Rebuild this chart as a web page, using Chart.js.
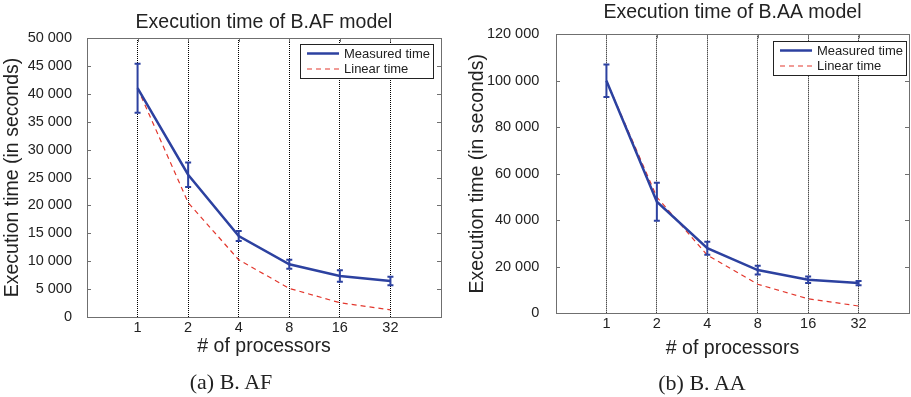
<!DOCTYPE html>
<html>
<head>
<meta charset="utf-8">
<script src="https://cdn.jsdelivr.net/npm/chart.js@4.4.0/dist/chart.umd.min.js"></script>
<style>
  body { margin: 0; background: #fff; }
  .panel { position: absolute; top: 0; height: 397px; }
  .caption { position: absolute; width: 200px; text-align: center; font-family: "Liberation Serif", serif; font-size: 22px; color: #222; line-height: 26px; }
</style>
</head>
<body>
<div class="panel" style="left:0; width:455px;"><canvas id="chartAF"></canvas></div>
<div class="panel" style="left:455px; width:456px;"><canvas id="chartAA"></canvas></div>
<div class="caption" style="left:131px; top:369px;">(a) B. AF</div>
<div class="caption" style="left:602px; top:370px;">(b) B. AA</div>
<script>
// number of processors (x axis is log2, one slot per value)
var procLabels = ['1', '2', '4', '8', '16', '32'];

// B.AF model
var afTitle = 'Execution time of B.AF model';
var afMeasured = [41000, 25500, 14500, 9450, 7350, 6450];
var afError = [4400, 2200, 900, 800, 1050, 750];
var afLinear = [41000, 20500, 10250, 5125, 2560, 1280];
var afMax = 50000;
var afStep = 5000;

// B.AA model
var aaTitle = 'Execution time of B.AA model';
var aaMeasured = [100000, 48000, 28000, 18600, 14400, 13000];
var aaError = [7000, 8200, 2800, 1900, 1400, 900];
var aaLinear = [100000, 50000, 25000, 12500, 6250, 3125];
var aaMax = 120000;
var aaStep = 20000;

var BLUE = '#2c41a0';
var RED = '#e3382e';
var FRAME = '#6f6f6f';
var TEXT = '#222';
var SANS = '"Liberation Sans", Arial, sans-serif';

function toPoints(values) {
  return values.map(function (v, i) { return { x: i + 1, y: v }; });
}

function spaced(v) {
  return String(v).replace(/\B(?=(\d{3})+(?!\d))/g, ' ');
}

// vertical error bars with small caps, drawn through the scales
var errorBars = {
  id: 'errorBars',
  afterDatasetsDraw: function (chart) {
    var ctx = chart.ctx;
    var xs = chart.scales.x, ys = chart.scales.y;
    chart.data.datasets.forEach(function (ds) {
      if (!ds.errors) return;
      ctx.save();
      ctx.strokeStyle = ds.borderColor;
      ctx.lineWidth = 2;
      ds.data.forEach(function (p, i) {
        var px = xs.getPixelForValue(p.x);
        var top = ys.getPixelForValue(p.y + ds.errors[i]);
        var bot = ys.getPixelForValue(p.y - ds.errors[i]);
        ctx.beginPath();
        ctx.moveTo(px, top); ctx.lineTo(px, bot);
        ctx.moveTo(px - 3, top); ctx.lineTo(px + 3, top);
        ctx.moveTo(px - 3, bot); ctx.lineTo(px + 3, bot);
        ctx.stroke();
      });
      ctx.restore();
    });
  }
};

// inward tick marks on all four sides of the box
var innerTicks = {
  id: 'innerTicks',
  afterDraw: function (chart) {
    var ctx = chart.ctx, a = chart.chartArea;
    ctx.save();
    ctx.strokeStyle = FRAME;
    ctx.lineWidth = 1;
    ctx.beginPath();
    chart.scales.y.ticks.forEach(function (t) {
      var py = Math.round(chart.scales.y.getPixelForValue(t.value)) + 0.5;
      ctx.moveTo(a.left, py); ctx.lineTo(a.left + 4, py);
      ctx.moveTo(a.right, py); ctx.lineTo(a.right - 4, py);
    });
    chart.scales.x.ticks.forEach(function (t) {
      var px = Math.round(chart.scales.x.getPixelForValue(t.value)) + 0.5;
      ctx.moveTo(px, a.top); ctx.lineTo(px, a.top + 4);
    });
    ctx.stroke();
    ctx.restore();
  }
};

// boxed legend inside the top right corner of the plot
var boxLegend = {
  id: 'boxLegend',
  afterDraw: function (chart, args, opts) {
    var ctx = chart.ctx, a = chart.chartArea;
    ctx.save();
    ctx.font = '13px ' + SANS;
    var maxW = 0;
    chart.data.datasets.forEach(function (ds) {
      maxW = Math.max(maxW, ctx.measureText(ds.label).width);
    });
    var w = 7 + 32 + 5 + maxW + 3;
    var h = 34;
    var x0 = a.right - opts.right - w;
    var y0 = a.top + opts.top;
    ctx.fillStyle = '#fff';
    ctx.fillRect(x0, y0, w, h);
    ctx.strokeStyle = '#222';
    ctx.lineWidth = 1;
    ctx.strokeRect(Math.round(x0) + 0.5, Math.round(y0) + 0.5, Math.round(w), h);
    chart.data.datasets.forEach(function (ds, i) {
      var cy = y0 + 9.5 + i * 15.5;
      ctx.strokeStyle = ds.borderColor;
      ctx.lineWidth = ds.borderWidth;
      ctx.setLineDash(ds.borderDash || []);
      ctx.beginPath();
      ctx.moveTo(x0 + 7, cy); ctx.lineTo(x0 + 39, cy);
      ctx.stroke();
      ctx.setLineDash([]);
      ctx.fillStyle = TEXT;
      ctx.textBaseline = 'middle';
      ctx.fillText(ds.label, x0 + 44, cy + 0.5);
    });
    ctx.restore();
  }
};

function makeChart(id, title, measured, errors, linear, yMax, yStep, L) {
  var ctx = document.getElementById(id).getContext('2d');
  return new Chart(ctx, {
    type: 'line',
    data: {
      datasets: [{
        label: 'Measured time',
        data: toPoints(measured),
        errors: errors,
        borderColor: BLUE,
        borderWidth: 2.5,
        pointRadius: 0,
        tension: 0
      }, {
        label: 'Linear time',
        data: toPoints(linear),
        borderColor: RED,
        borderWidth: 1.2,
        borderDash: [5, 4],
        pointRadius: 0,
        tension: 0
      }]
    },
    options: {
      responsive: true,
      maintainAspectRatio: false,
      animation: false,
      layout: { padding: { left: 0, right: L.rightPad, top: 0, bottom: L.bottomPad } },
      scales: {
        x: {
          type: 'linear', min: 0, max: 7,
          afterBuildTicks: function (scale) {
            scale.ticks = procLabels.map(function (_, i) { return { value: i + 1 }; });
          },
          afterFit: function (scale) { scale.height = L.xHeight; },
          ticks: {
            padding: 2, color: TEXT, font: { family: SANS, size: 14.5 },
            maxRotation: 0, autoSkip: false,
            callback: function (v) { return procLabels[v - 1]; }
          },
          grid: { color: '#000', lineWidth: 1, drawTicks: false },
          border: { color: FRAME, width: 1, dash: [1, 1] },
          title: {
            display: true, text: '# of processors', color: TEXT,
            font: { family: SANS, size: 19.5 }, padding: { top: 0, bottom: L.xTitlePad }
          }
        },
        xTop: {
          type: 'linear', position: 'top', min: 0, max: 7,
          afterFit: function (scale) { scale.height = 0; },
          ticks: { display: false }, grid: { display: false },
          border: { color: FRAME, width: 1 }
        },
        y: {
          min: 0, max: yMax,
          afterFit: function (scale) { scale.width = L.yWidth; },
          ticks: {
            stepSize: yStep, padding: L.yTickPad, color: TEXT,
            font: { family: SANS, size: 14.5 },
            callback: function (v) { return spaced(v); }
          },
          grid: { display: false },
          border: { color: FRAME, width: 1 },
          title: {
            display: true, text: 'Execution time (in seconds)', color: TEXT,
            font: { family: SANS, size: 19.5 }, padding: { top: L.yTitlePad, bottom: 0 }
          }
        },
        yRight: {
          position: 'right', min: 0, max: yMax,
          afterFit: function (scale) { scale.width = 0; },
          ticks: { display: false }, grid: { display: false },
          border: { color: FRAME, width: 1 }
        }
      },
      plugins: {
        legend: { display: false },
        tooltip: { enabled: false },
        title: {
          display: true, text: title, color: TEXT, fullSize: false,
          font: { family: SANS, size: 19.5, weight: 'normal' },
          padding: { top: L.titleTop, bottom: L.titleBottom }
        },
        boxLegend: { right: L.legRight, top: L.legTop }
      }
    },
    plugins: [errorBars, innerTicks, boxLegend]
  });
}

makeChart('chartAF', afTitle, afMeasured, afError, afLinear, afMax, afStep, {
  yWidth: 87, rightPad: 14, bottomPad: 35, xHeight: 45, xTitlePad: 3.6,
  yTickPad: 7, yTitlePad: 1.3, titleTop: 11.3, titleBottom: 3.3, legRight: 8, legTop: 6
});
makeChart('chartAA', aaTitle, aaMeasured, aaError, aaLinear, aaMax, aaStep, {
  yWidth: 101, rightPad: 2, bottomPad: 33.7, xHeight: 50, xTitlePad: 3.3,
  yTickPad: 8.7, yTitlePad: 10.6, titleTop: 1, titleBottom: 9.9, legRight: 3, legTop: 6.7
});
</script>
</body>
</html>
